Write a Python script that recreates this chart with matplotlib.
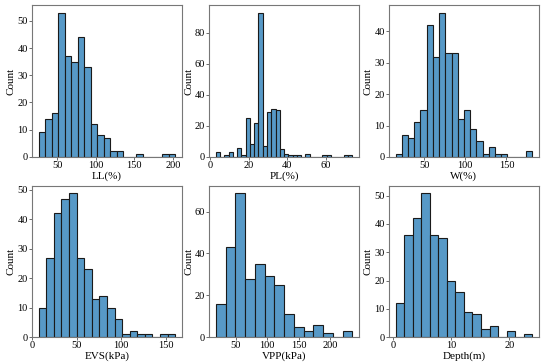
import numpy as np
import matplotlib
matplotlib.use("Agg")
import matplotlib.pyplot as plt

plt.rcParams['font.family'] = ['Liberation Serif', 'DejaVu Serif']

# histogram counts per bin, with the bin range (lo, hi)
ll_counts = [9, 14, 16, 53, 37, 35, 44, 33, 12, 8, 7, 2, 2, 0, 0, 1, 0, 0, 0, 1, 1]
ll_range = (26, 203)
pl_counts = [3, 0, 1, 3, 0, 6, 1, 25, 8, 22, 93, 7, 29, 31, 30, 5,
             2, 1, 1, 1, 0, 2, 0, 0, 0, 1, 1, 0, 0, 0, 1, 1]
pl_range = (3.0, 73.7)
w_counts = [1, 7, 6, 11, 15, 42, 32, 46, 33, 33, 12, 15, 9, 5, 1, 3, 1, 1, 0, 0, 0, 2]
w_range = (15.4, 181.3)
evs_counts = [10, 27, 42, 47, 49, 27, 23, 13, 14, 10, 6, 1, 2, 1, 1, 0, 1, 1]
evs_range = (7.5, 160.8)
vpp_counts = [16, 43, 69, 28, 35, 29, 25, 11, 5, 3, 6, 2, 0, 3]
vpp_range = (17.9, 236.0)
depth_counts = [12, 36, 42, 51, 36, 35, 20, 16, 9, 8, 3, 4, 0, 2, 0, 1]
depth_range = (0.46, 23.9)

panels = [
    (ll_counts, ll_range, 'LL(%)', [50, 100, 150, 200]),
    (pl_counts, pl_range, 'PL(%)', [0, 20, 40, 60]),
    (w_counts, w_range, 'W(%)', [50, 100, 150]),
    (evs_counts, evs_range, 'EVS(kPa)', [0, 50, 100, 150]),
    (vpp_counts, vpp_range, 'VPP(kPa)', [50, 100, 150, 200]),
    (depth_counts, depth_range, 'Depth(m)', [0, 10, 20]),
]

fig = plt.figure(figsize=(5.5, 3.64), dpi=100)
lefts = [0.058, 0.38, 0.707]
bottoms = [0.569, 0.074]
bar_color = (87 / 255, 153 / 255, 199 / 255)

for i, (counts, rng, label, xt) in enumerate(panels):
    ax = fig.add_axes([lefts[i % 3], bottoms[i // 3], 0.273, 0.416])
    edges = np.linspace(rng[0], rng[1], len(counts) + 1)
    ax.bar(edges[:-1], counts, width=np.diff(edges), align='edge',
           color=bar_color, edgecolor='#1a1a1a', linewidth=0.8)
    ax.set_xticks(xt)
    ax.set_xlabel(label, fontsize=8, labelpad=1)
    ax.set_ylabel('Count', fontsize=8, labelpad=1)
    ax.tick_params(labelsize=7.5, length=2, width=0.6, pad=1, color='#555555')
    for s in ax.spines.values():
        s.set_color('#777777')
        s.set_linewidth(0.8)

fig.savefig('out.png', dpi=100)
